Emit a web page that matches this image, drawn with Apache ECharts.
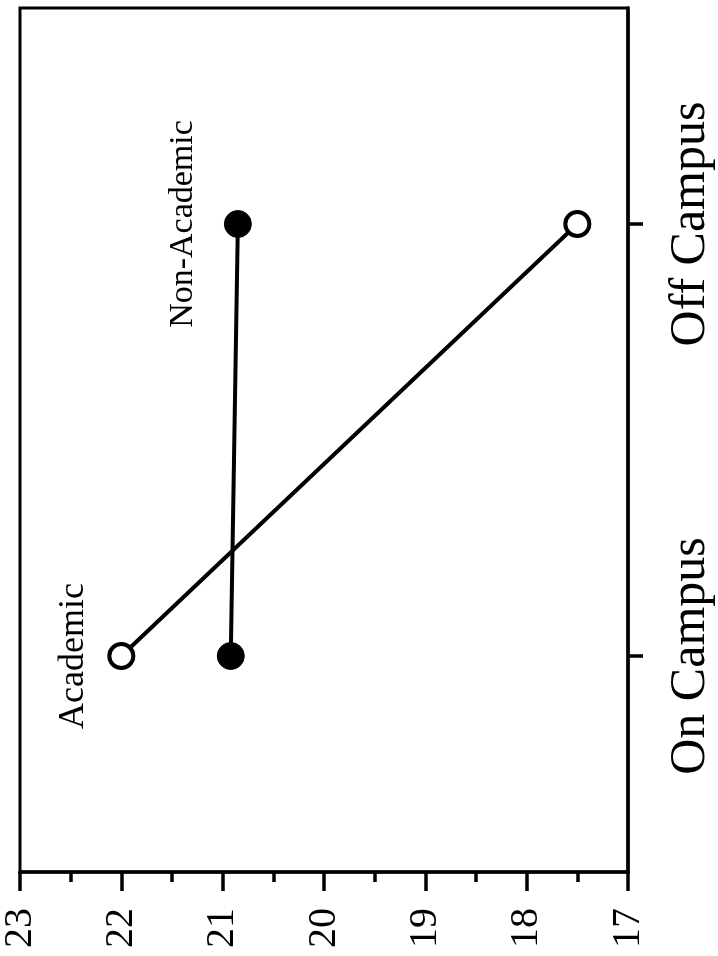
<!DOCTYPE html>
<html>
<head>
<meta charset="utf-8">
<script src="https://cdn.jsdelivr.net/npm/echarts@6/dist/echarts.min.js"></script>
<style>
  html, body { margin: 0; padding: 0; background: #fff; }
  #chart { width: 718px; height: 956px; }
</style>
</head>
<body>
<div id="chart"></div>
<script>
// Mean scores by residence, drawn sideways (value axis along the bottom)
const categories = ['On Campus', 'Off Campus'];
const academic = [22.0, 17.5];
const nonAcademic = [20.92, 20.85];
const seriesNames = ['Academic', 'Non-Academic'];
const valueMin = 17;
const valueMax = 23;

const serif = '"Liberation Serif", "Times New Roman", serif';
const chart = echarts.init(document.getElementById('chart'));

function nameLabel(text, distance) {
  return {
    show: true, formatter: text, position: 'left', distance: distance,
    rotate: 90, align: 'center', verticalAlign: 'bottom'
  };
}

chart.setOption({
  animation: false,
  backgroundColor: '#fff',
  grid: {
    left: 16, right: 90, top: 8, bottom: 84,
    show: true, borderColor: '#000', borderWidth: 3
  },
  xAxis: {
    type: 'value',
    min: valueMin, max: valueMax, interval: 1,
    inverse: true,
    position: 'bottom',
    axisLine: { show: true, lineStyle: { color: '#000', width: 3.5 } },
    axisTick: { show: true, length: 19, lineStyle: { color: '#000', width: 3.5 } },
    minorTick: { show: true, splitNumber: 2, length: 10, lineStyle: { color: '#000', width: 3.5 } },
    splitLine: { show: false },
    axisLabel: {
      rotate: 90, margin: 36, color: '#000',
      fontFamily: serif, fontSize: 40
    }
  },
  yAxis: {
    type: 'category',
    data: categories,
    position: 'right',
    boundaryGap: true,
    axisLine: { show: true, lineStyle: { color: '#000', width: 3.5 } },
    axisTick: { show: true, alignWithLabel: true, length: 15, lineStyle: { color: '#000', width: 3.5 } },
    splitLine: { show: false },
    axisLabel: {
      rotate: 90, margin: 38, color: '#000',
      fontFamily: serif, fontSize: 50
    }
  },
  series: [
    {
      name: seriesNames[0],
      type: 'line',
      data: academic.map((v, i) => ({
        value: v,
        label: i === 0 ? nameLabel(seriesNames[0], 16) : { show: false }
      })),
      symbol: 'circle', symbolSize: 24,
      itemStyle: { color: '#fff', borderColor: '#000', borderWidth: 4 },
      lineStyle: { color: '#000', width: 4 },
      label: { color: '#000', fontFamily: serif, fontSize: 36 },
      z: 3
    },
    {
      name: seriesNames[1],
      type: 'line',
      data: nonAcademic.map((v, i) => ({
        value: v,
        label: i === 1 ? nameLabel(seriesNames[1], 24) : { show: false }
      })),
      symbol: 'circle', symbolSize: 27,
      itemStyle: { color: '#000', borderColor: '#000', borderWidth: 1 },
      lineStyle: { color: '#000', width: 4 },
      label: { color: '#000', fontFamily: serif, fontSize: 34 },
      z: 3
    }
  ]
});
</script>
</body>
</html>
